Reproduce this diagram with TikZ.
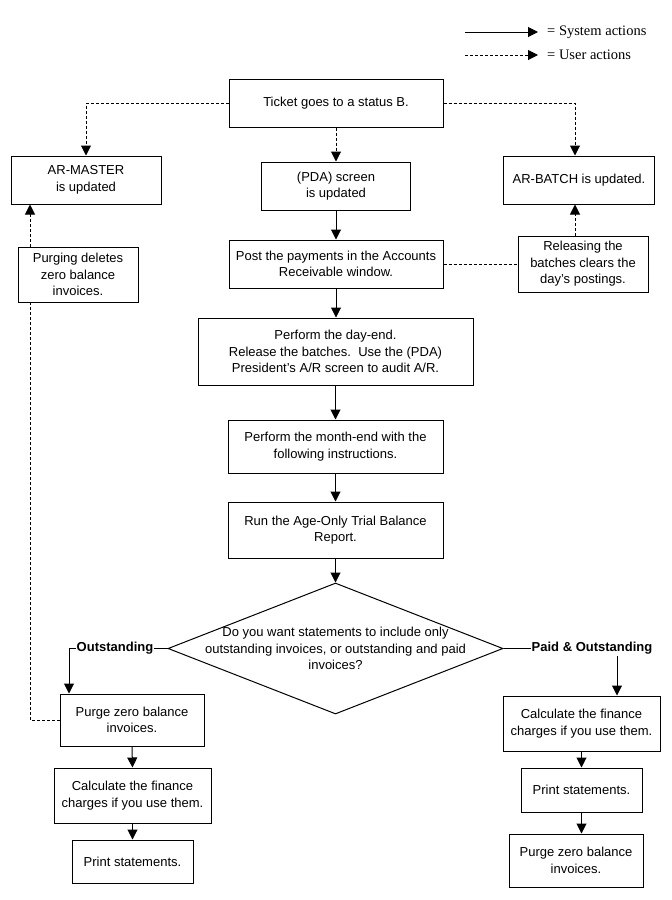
\documentclass[tikz,border=0pt]{standalone}
\usepackage{fontspec}
\setmainfont{Liberation Sans}
\newfontfamily\legfont{Liberation Serif}
\usetikzlibrary{arrows.meta,shapes.geometric,calc}
\begin{document}
\begin{tikzpicture}[x=1pt,y=-1pt,
  txt/.style={inner sep=0pt,align=center,font=\fontsize{13}{16.5}\selectfont},
  box/.style 2 args={txt,draw,line width=1pt,minimum width=#1pt,minimum height=#2pt},
  sys/.style={line width=1pt,-{Triangle[length=10pt,width=10pt]}},
  usr/.style={sys,dash pattern=on 3pt off 2pt},
  usrl/.style={line width=1pt,dash pattern=on 3pt off 2pt},
  lab/.style={fill=white,inner sep=1pt,font=\fontsize{13}{15}\selectfont\bfseries},
  leg/.style={inner sep=0pt,font=\legfont\fontsize{14.5}{16}\selectfont}]
\fill[white] (0,0) rectangle (672,900);
\useasboundingbox (0,0) rectangle (672,900);

% legend
\coordinate (la) at (465,32); \coordinate (lb) at (538,32);
\coordinate (lc) at (465,55); \coordinate (ld) at (538,55);
\draw[sys] (la) -- (lb);
\draw[usr] (lc) -- (ld);
\node[leg,anchor=west] (lt1) at (547,32) {= System actions};
\node[leg,anchor=west] (lt2) at (547,55) {= User actions};

% nodes
\node[box={214}{48}] (ticket) at (336,103) {Ticket goes to a status B.};
\node[box={150}{48}] (armaster) at (86,180) {AR-MASTER\\is updated};
\node[box={149}{48}] (pda) at (336,186) {(PDA) screen\\is updated};
\node[box={151}{48}] (arbatch) at (579,180) {AR-BATCH is updated.};
\node[box={214}{48}] (post) at (336,264) {Post the payments in the Accounts\\Receivable window.};
\node[box={120}{55}] (purging) at (78,274.5) {Purging deletes\\zero balance\\invoices.};
\node[box={130}{56}] (releasing) at (583,264) {Releasing the\\batches clears the\\day's postings.};
\node[box={275}{67}] (dayend) at (335.5,351.5) {Perform the day-end.\\Release the batches.\ \ Use the (PDA)\\President's A/R screen to audit A/R.};
\node[box={215}{53}] (monthend) at (335.5,446.5) {Perform the month-end with the\\following instructions.};
\node[box={215}{56}] (ageonly) at (335.5,530) {Run the Age-Only Trial Balance\\Report.};
\node[draw,line width=1pt,diamond,minimum width=335pt,minimum height=131pt,inner sep=0pt] (dia) at (335.5,648.5) {};
\node[txt] (dq) at (dia.center) {Do you want statements to include only\\outstanding invoices, or outstanding and paid\\invoices?};

\node[box={144}{52}] (purgeL) at (132,720) {Purge zero balance\\invoices.};
\node[box={157}{55}] (calcL) at (132.5,795.5) {Calculate the finance\\charges if you use them.};
\node[box={121}{43}] (printL) at (132.5,861.5) {Print statements.};

\node[box={157}{55}] (calcR) at (581.5,723.5) {Calculate the finance\\charges if you use them.};
\node[box={121}{44}] (printR) at (581.5,790) {Print statements.};
\node[box={134}{53}] (purgeR) at (576,860.5) {Purge zero balance\\invoices.};

% user action connectors
\draw[usr] (ticket.west) -| (armaster.north);
\draw[usr] (ticket.south) -- (pda.north);
\draw[usr] (ticket.east) -| ([xshift=-4pt]arbatch.north);
\draw[usrl] (post.east) -- (releasing.west);
\draw[usr] ([xshift=-4pt]arbatch.south |- releasing.north) -- ([xshift=-4pt]arbatch.south);
\coordinate (lx) at (30,0);
\draw[usrl] (purgeL.west) -| (lx |- purging.south);
\draw[usr] (lx |- purging.north) -- (lx |- armaster.south);

% system action connectors
\draw[sys] (pda.south) -- (post.north);
\draw[sys] (post.south) -- (post.south |- dayend.north);
\draw[sys] (dayend.south) -- (monthend.north);
\draw[sys] (monthend.south) -- (ageonly.north);
\draw[sys] (ageonly.south) -- (dia.north);

\coordinate (oc) at (69,648.5);
\draw[sys] (dia.west) -- (oc) -- (oc |- purgeL.north);
\node[lab] (outl) at (115,648.5) {Outstanding};
\coordinate (pc) at (617,648.5);
\draw[sys] (dia.east) -- (pc) -- (pc |- calcR.north);
\node[lab] (paidl) at (592,648.5) {Paid \& Outstanding};

\draw[sys] (purgeL.south) -- (calcL.north);
\draw[sys] (calcL.south) -- (printL.north);
\draw[sys] (calcR.south) -- (printR.north);
\draw[sys] (printR.south) -- (printR.south |- purgeR.north);
\end{tikzpicture}
\end{document}
